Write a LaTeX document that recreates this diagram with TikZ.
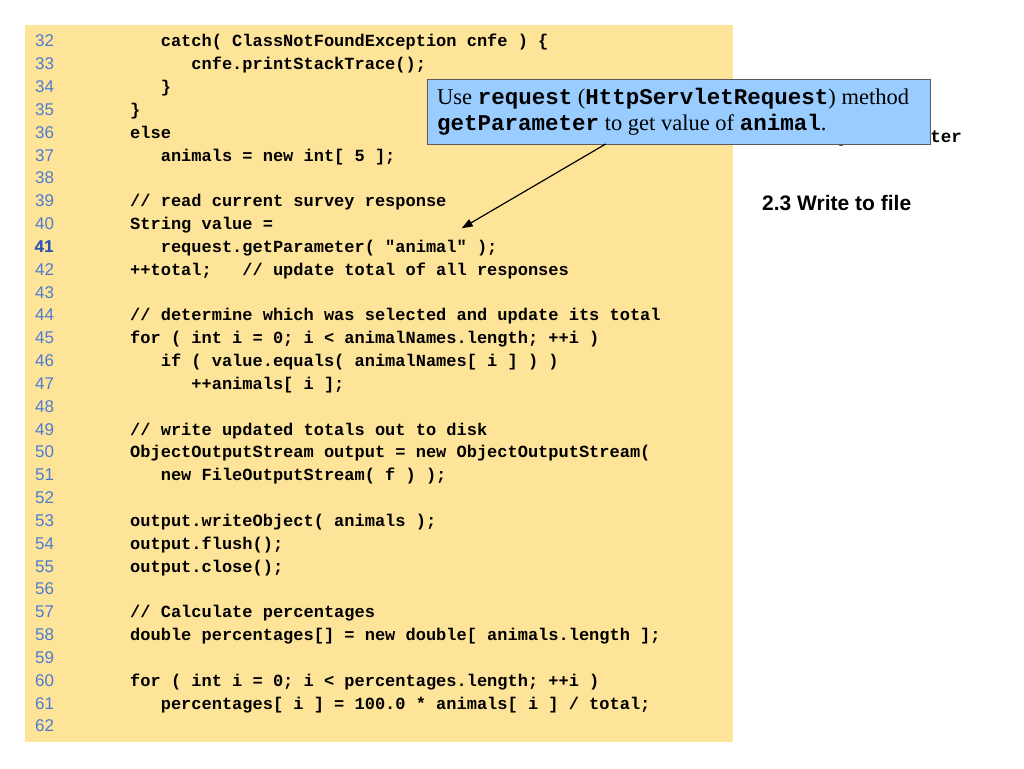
\documentclass[tikz,border=0pt]{standalone}
\usepackage{fontspec}
\setmainfont{Liberation Serif}
\setsansfont{Liberation Sans}
\setmonofont{Liberation Mono}
\usetikzlibrary{arrows.meta}
\definecolor{codebg}{RGB}{254,228,153}
\definecolor{lnblue}{RGB}{78,124,210}
\definecolor{lnblue2}{RGB}{45,85,175}
\definecolor{calloutfill}{RGB}{153,204,255}
\definecolor{calloutedge}{RGB}{90,90,95}
\newcommand\codeline[3]{\node[codetext] (c#1) at ({130+#2*10.2},{47+(#1-32)*22.83}) {#3};}
\tikzset{
  codetext/.style={anchor=base west, inner sep=0pt, font=\ttfamily\bfseries\fontsize{17}{20}\selectfont, text=black},
  lnum/.style={anchor=base west, inner sep=0pt, font=\sffamily\fontsize{17}{19}\selectfont, text=lnblue},
  calloutbox/.style={draw=calloutedge, line width=1.2pt, fill=calloutfill, inner sep=0pt},
  callouttext/.style={anchor=base west, inner sep=0pt, font=\rmfamily\fontsize{22.5}{26}\selectfont},
  outline/.style={anchor=base west, inner sep=0pt, font=\sffamily\bfseries\fontsize{21}{24}\selectfont},
  pointer/.style={line width=1.2pt, -{Triangle[length=11pt,width=8pt]}}
}
\begin{document}
\begin{tikzpicture}[x=1pt,y=-1pt]
\useasboundingbox (0,0) rectangle (1024,768);
\fill[white] (0,0) rectangle (1024,768);
% code panel
\node[fill=codebg, inner sep=0pt, minimum width=708pt, minimum height=717pt, anchor=north west] (panel) at (25,25) {};
% line numbers
\foreach \n in {32,...,62} {
  \node[lnum] (n\n) at (35,{47+(\n-32)*22.83}) {\n};
}
\node[lnum, text=lnblue2, font=\sffamily\bfseries\fontsize{17}{19}\selectfont] (n41b) at (34.5,{47+9*22.83}) {41};
% code
\codeline{32}{3}{catch( ClassNotFoundException cnfe ) \{}
\codeline{33}{6}{cnfe.printStackTrace();}
\codeline{34}{3}{\}}
\codeline{35}{0}{\}}
\codeline{36}{0}{else}
\codeline{37}{3}{animals = new int[ 5 ];}
\codeline{39}{0}{// read current survey response}
\codeline{40}{0}{String value =}
\codeline{41}{3}{request.getParameter( "animal" );}
\codeline{42}{0}{++total;~~~// update total of all responses}
\codeline{44}{0}{// determine which was selected and update its total}
\codeline{45}{0}{for ( int i = 0; i < animalNames.length; ++i )}
\codeline{46}{3}{if ( value.equals( animalNames[ i ] ) )}
\codeline{47}{6}{++animals[ i ];}
\codeline{49}{0}{// write updated totals out to disk}
\codeline{50}{0}{ObjectOutputStream output = new ObjectOutputStream(}
\codeline{51}{3}{new FileOutputStream( f ) );}
\codeline{53}{0}{output.writeObject( animals );}
\codeline{54}{0}{output.flush();}
\codeline{55}{0}{output.close();}
\codeline{57}{0}{// Calculate percentages}
\codeline{58}{0}{double percentages[] = new double[ animals.length ];}
\codeline{60}{0}{for ( int i = 0; i < percentages.length; ++i )}
\codeline{61}{3}{percentages[ i ] = 100.0 * animals[ i ] / total;}
% outline text on the right (first item mostly hidden by the callout)
\node[outline, anchor=base east] (o22) at (962,142.7) {2.2 Call \texttt{\bfseries\fontsize{17.5}{20}\selectfont getParameter}};
\node[outline] (o23) at (762,210) {2.3 Write to file};
% callout
\node[calloutbox, minimum width=503pt, minimum height=65pt, anchor=north west] (callout) at (427,79) {};
\node[callouttext] (ct1) at (437,104) {Use \texttt{\bfseries request} (\texttt{\bfseries HttpServletRequest}) method};
\node[callouttext] (ct2) at (437,130) {\texttt{\bfseries getParameter} to get value of \texttt{\bfseries animal}.};
\coordinate (astart) at (605.7,144);
\coordinate (atip) at (461.7,228.3);
\draw[pointer] (astart) -- (atip);
\end{tikzpicture}
\end{document}
